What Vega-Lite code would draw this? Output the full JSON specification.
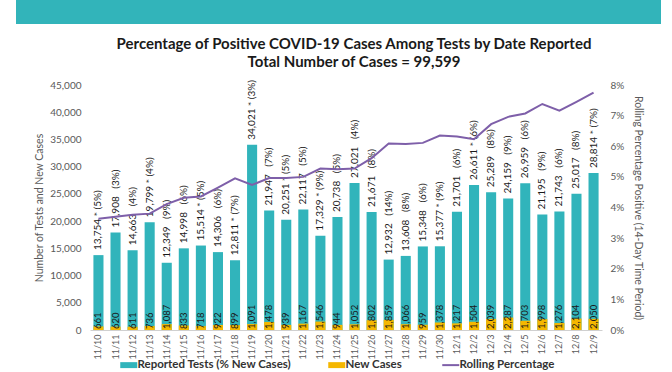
{
  "$schema": "https://vega.github.io/schema/vega-lite/v6.json",
  "padding": {"left": 16, "top": 0, "right": 0, "bottom": 0},
  "background": "white",
  "config": {
    "view": {"stroke": null},
    "font": "Lato",
    "legend": {"layout": {"bottom": {"anchor": "middle"}}},
    "axisY": {
      "grid": false,
      "domain": false,
      "ticks": false,
      "labelPadding": 9,
      "labelFontSize": 10,
      "labelColor": "#595959",
      "titleFontSize": 10.5,
      "titleFontWeight": "normal",
      "titleColor": "#595959",
      "titlePadding": 5
    }
  },
  "spacing": 12,
  "vconcat": [
    {
      "width": 645,
      "height": 24,
      "view": {"fill": "#32b4ba", "stroke": null},
      "data": {"values": [{}]},
      "mark": {"type": "point", "opacity": 0}
    },
    {
      "spacing": 0,
      "hconcat": [
        {
          "width": 18,
          "height": 10,
          "data": {"values": [{}]},
          "mark": {"type": "point", "opacity": 0}
        },
        {
          "width": 512,
          "height": 245,
          "title": {
            "text": ["Percentage of Positive COVID-19 Cases Among Tests by Date Reported", "Total Number of Cases = 99,599"],
            "font": "Lato",
            "fontSize": 15,
            "fontWeight": "bold",
            "color": "#1a1a1a",
            "lineHeight": 18,
            "offset": 10,
            "anchor": "middle",
            "frame": "group",
            "dx": 8
          },
          "data": {
            "values": [
              {"date": "11/10", "tests": 13754, "cases": 661, "rate": 0.0363, "label": "13,754 * (5%)", "caseLabel": "661"},
              {"date": "11/11", "tests": 17908, "cases": 620, "rate": 0.0370, "label": "17,908\u2002\u00a0(3%)", "caseLabel": "620"},
              {"date": "11/12", "tests": 14663, "cases": 611, "rate": 0.0376, "label": "14,663\u2002\u00a0(4%)", "caseLabel": "611"},
              {"date": "11/13", "tests": 19799, "cases": 736, "rate": 0.0380, "label": "19,799 * (4%)", "caseLabel": "736"},
              {"date": "11/14", "tests": 12349, "cases": 1087, "rate": 0.0411, "label": "12,349\u2002\u00a0(9%)", "caseLabel": "1,087"},
              {"date": "11/15", "tests": 14998, "cases": 833, "rate": 0.0432, "label": "14,998\u2002\u00a0(6%)", "caseLabel": "833"},
              {"date": "11/16", "tests": 15514, "cases": 718, "rate": 0.0436, "label": "15,514 * (5%)", "caseLabel": "718"},
              {"date": "11/17", "tests": 14306, "cases": 922, "rate": 0.0465, "label": "14,306\u2002\u00a0(6%)", "caseLabel": "922"},
              {"date": "11/18", "tests": 12811, "cases": 899, "rate": 0.0495, "label": "12,811 * (7%)", "caseLabel": "899"},
              {"date": "11/19", "tests": 34021, "cases": 1091, "rate": 0.0474, "label": "34,021 * (3%)", "caseLabel": "1,091"},
              {"date": "11/20", "tests": 21947, "cases": 1478, "rate": 0.0496, "label": "21,947\u2002\u00a0(7%)", "caseLabel": "1,478"},
              {"date": "11/21", "tests": 20251, "cases": 939, "rate": 0.0496, "label": "20,251 * (5%)", "caseLabel": "939"},
              {"date": "11/22", "tests": 22117, "cases": 1167, "rate": 0.0500, "label": "22,117\u2002\u00a0(5%)", "caseLabel": "1,167"},
              {"date": "11/23", "tests": 17329, "cases": 1546, "rate": 0.0527, "label": "17,329 * (9%)", "caseLabel": "1,546"},
              {"date": "11/24", "tests": 20738, "cases": 944, "rate": 0.0525, "label": "20,738\u2002\u00a0(5%)", "caseLabel": "944"},
              {"date": "11/25", "tests": 27021, "cases": 1052, "rate": 0.0527, "label": "27,021\u2002\u00a0(4%)", "caseLabel": "1,052"},
              {"date": "11/26", "tests": 21671, "cases": 1802, "rate": 0.0561, "label": "21,671\u2002\u00a0(8%)", "caseLabel": "1,802"},
              {"date": "11/27", "tests": 12932, "cases": 1859, "rate": 0.0609, "label": "12,932\u2002\u00a0(14%)", "caseLabel": "1,859"},
              {"date": "11/28", "tests": 13608, "cases": 1066, "rate": 0.0607, "label": "13,608\u2002\u00a0(8%)", "caseLabel": "1,066"},
              {"date": "11/29", "tests": 15348, "cases": 959, "rate": 0.0611, "label": "15,348\u2002\u00a0(6%)", "caseLabel": "959"},
              {"date": "11/30", "tests": 15377, "cases": 1378, "rate": 0.0635, "label": "15,377 * (9%)", "caseLabel": "1,378"},
              {"date": "12/1", "tests": 21701, "cases": 1217, "rate": 0.0632, "label": "21,701\u2002\u00a0(6%)", "caseLabel": "1,217"},
              {"date": "12/2", "tests": 26611, "cases": 1504, "rate": 0.0623, "label": "26,611 * (6%)", "caseLabel": "1,504"},
              {"date": "12/3", "tests": 25289, "cases": 2039, "rate": 0.0672, "label": "25,289\u2002\u00a0(8%)", "caseLabel": "2,039"},
              {"date": "12/4", "tests": 24159, "cases": 2287, "rate": 0.0696, "label": "24,159\u2002\u00a0(9%)", "caseLabel": "2,287"},
              {"date": "12/5", "tests": 26959, "cases": 1703, "rate": 0.0707, "label": "26,959\u2002\u00a0(6%)", "caseLabel": "1,703"},
              {"date": "12/6", "tests": 21195, "cases": 1998, "rate": 0.0738, "label": "21,195\u2002\u00a0(9%)", "caseLabel": "1,998"},
              {"date": "12/7", "tests": 21743, "cases": 1276, "rate": 0.0716, "label": "21,743\u2002\u00a0(6%)", "caseLabel": "1,276"},
              {"date": "12/8", "tests": 25017, "cases": 2104, "rate": 0.0745, "label": "25,017\u2002\u00a0(8%)", "caseLabel": "2,104"},
              {"date": "12/9", "tests": 28814, "cases": 2050, "rate": 0.0775, "label": "28,814 * (7%)", "caseLabel": "2,050"}
            ]
          },
          "encoding": {
            "x": {
              "field": "date",
              "type": "ordinal",
              "sort": null,
              "scale": {"paddingInner": 0.41, "paddingOuter": 0.2},
              "axis": {
                "title": null,
                "labelAngle": 270,
                "labelFontSize": 9,
                "labelColor": "#595959",
                "labelPadding": 4,
                "ticks": false,
                "domainColor": "#d0d0d0",
                "domainWidth": 1
              }
            }
          },
          "layer": [
            {
              "encoding": {
                "y": {
                  "field": "tests",
                  "type": "quantitative",
                  "scale": {"domain": [0, 45000]},
                  "axis": {
                    "title": "Number of Tests and New Cases",
                    "values": [0, 5000, 10000, 15000, 20000, 25000, 30000, 35000, 40000, 45000],
                    "labelExpr": "datum.value == 0 ? '0' : floor(datum.value / 1000) + ',000'"
                  }
                }
              },
              "layer": [
                {
                  "mark": {"type": "bar"},
                  "encoding": {
                    "color": {
                      "datum": "Reported Tests (% New Cases)",
                      "scale": {
                        "domain": ["Reported Tests (% New Cases)", "New Cases", "Rolling Percentage"],
                        "range": ["#31b4bb", "#f5b700", "#7e5fa9"]
                      },
                      "legend": {
                        "orient": "bottom",
                        "direction": "horizontal",
                        "title": null,
                        "offset": 0,
                        "labelFontSize": 11.5,
                        "labelFontWeight": "bold",
                        "labelColor": "#333333",
                        "labelOffset": 3,
                        "columnPadding": 36,
                        "symbolSize": 289,
                        "encode": {
                          "symbols": {
                            "update": {
                              "shape": {"signal": "datum.value === 'Rolling Percentage' ? 'M-1,0H1' : 'M-1,-0.35H1V0.35H-1Z'"},
                              "fill": {"signal": "datum.value === 'Rolling Percentage' ? 'transparent' : scale('color', datum.value)"},
                              "stroke": {"signal": "scale('color', datum.value)"},
                              "strokeWidth": {"signal": "datum.value === 'Rolling Percentage' ? 2 : 0"},
                              "opacity": {"value": 1}
                            }
                          }
                        }
                      }
                    }
                  }
                },
                {
                  "mark": {"type": "bar"},
                  "encoding": {
                    "y": {"field": "cases", "type": "quantitative"},
                    "color": {"datum": "New Cases"}
                  }
                },
                {
                  "mark": {"type": "text", "angle": 270, "align": "left", "baseline": "middle", "dx": 5, "fontSize": 10, "color": "#1a1a1a"},
                  "encoding": {
                    "text": {"field": "label"}
                  }
                },
                {
                  "mark": {"type": "text", "angle": 270, "align": "left", "baseline": "middle", "dx": 1, "fontSize": 9.5, "color": "#1a1a1a"},
                  "encoding": {
                    "y": {"datum": 0, "type": "quantitative"},
                    "text": {"field": "caseLabel"}
                  }
                }
              ]
            },
            {
              "mark": {"type": "line", "strokeWidth": 2},
              "encoding": {
                "y": {
                  "field": "rate",
                  "type": "quantitative",
                  "scale": {"domain": [0, 0.08]},
                  "axis": {
                    "orient": "right",
                    "title": "Rolling Percentage Positive (14-Day Time Period)",
                    "values": [0, 0.01, 0.02, 0.03, 0.04, 0.05, 0.06, 0.07, 0.08],
                    "labelExpr": "round(datum.value * 100) + '%'",
                    "labelPadding": 8,
                    "titlePadding": 9
                  }
                },
                "color": {"datum": "Rolling Percentage"}
              }
            }
          ],
          "resolve": {"scale": {"y": "independent"}}
        }
      ]
    }
  ]
}
